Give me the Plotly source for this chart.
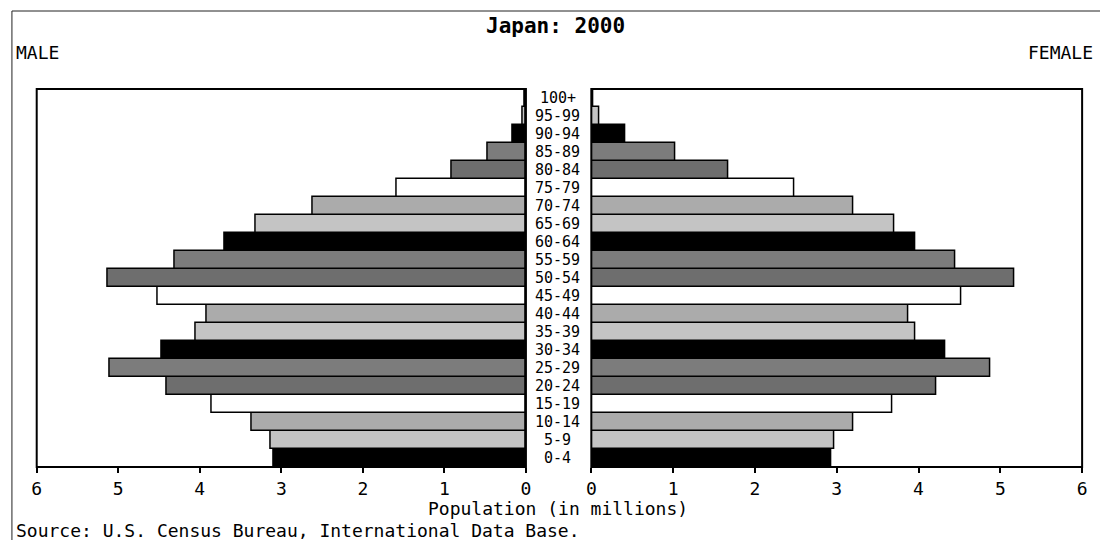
import plotly.graph_objects as go

age_groups = ["0-4", "5-9", "10-14", "15-19", "20-24", "25-29", "30-34", "35-39",
              "40-44", "45-49", "50-54", "55-59", "60-64", "65-69", "70-74", "75-79",
              "80-84", "85-89", "90-94", "95-99", "100+"]
male = [3.09, 3.13, 3.36, 3.85, 4.41, 5.11, 4.47, 4.05, 3.91, 4.52, 5.13,
        4.31, 3.70, 3.32, 2.62, 1.58, 0.91, 0.47, 0.16, 0.04, 0.01]
female = [2.94, 2.97, 3.20, 3.68, 4.22, 4.88, 4.33, 3.96, 3.87, 4.52, 5.17,
          4.45, 3.96, 3.71, 3.20, 2.48, 1.68, 1.03, 0.42, 0.10, 0.02]
x_ticks = [0, 1, 2, 3, 4, 5, 6]

title_text = "Japan: 2000"
xlabel = "Population (in millions)"
source_text = "Source: U.S. Census Bureau, International Data Base."

palette = ["#000000", "#c4c4c4", "#ababab", "#ffffff", "#6e6e6e", "#7c7c7c"]
bar_colors = [palette[i % len(palette)] for i in range(len(age_groups))]

W, H = 1100, 540
FONT = "DejaVu Sans Mono"

def px_x(v):
    return v / W

def px_y(v):
    return 1 - v / H

fig = go.Figure()
fig.add_trace(go.Bar(y=age_groups, x=male, orientation="h", xaxis="x", yaxis="y",
                     marker=dict(color=bar_colors, line=dict(color="black", width=1.5)),
                     showlegend=False, hoverinfo="x+y"))
fig.add_trace(go.Bar(y=age_groups, x=female, orientation="h", xaxis="x2", yaxis="y",
                     marker=dict(color=bar_colors, line=dict(color="black", width=1.5)),
                     showlegend=False, hoverinfo="x+y"))

y_dom = [px_y(467), px_y(89)]
axis_common = dict(tickmode="array", tickvals=x_ticks, ticktext=[str(t) for t in x_ticks],
                   ticks="outside", ticklen=5, tickwidth=1.5, tickcolor="black",
                   showgrid=False, zeroline=False, showline=False,
                   tickfont=dict(family=FONT, size=18, color="black"), fixedrange=True)

fig.update_layout(
    width=W, height=H,
    margin=dict(l=0, r=0, t=0, b=0),
    paper_bgcolor="white", plot_bgcolor="white",
    bargap=0,
    xaxis=dict(domain=[px_x(32), px_x(525.7)], range=[6, 0], anchor="y", **axis_common),
    xaxis2=dict(domain=[px_x(591.7), px_x(1087)], range=[0, 6], anchor="y", **axis_common),
    yaxis=dict(domain=y_dom, type="category", categoryorder="array", categoryarray=age_groups,
               showticklabels=False, ticks="", showgrid=False, zeroline=False,
               range=[-0.5, len(age_groups) - 0.5], fixedrange=True),
)

shapes = [
    dict(type="rect", xref="x domain", yref="y domain", x0=0, x1=1, y0=0, y1=1,
         line=dict(color="black", width=2), fillcolor="rgba(0,0,0,0)", layer="above"),
    dict(type="rect", xref="x2 domain", yref="y domain", x0=0, x1=1, y0=0, y1=1,
         line=dict(color="black", width=2), fillcolor="rgba(0,0,0,0)", layer="above"),
    dict(type="rect", xref="paper", yref="paper", x0=px_x(7), x1=px_x(1110),
         y0=px_y(560), y1=px_y(11), line=dict(color="#222222", width=1),
         fillcolor="rgba(0,0,0,0)"),
]

annotations = []
for ag in age_groups:
    annotations.append(dict(text=ag, x=px_x(558), xref="paper", y=ag, yref="y",
                            xanchor="center", yanchor="middle", showarrow=False,
                            font=dict(family=FONT, size=15, color="black")))
annotations += [
    dict(text="<b>" + title_text + "</b>", x=px_x(556), y=px_y(26), xref="paper", yref="paper",
         xanchor="center", yanchor="middle", showarrow=False,
         font=dict(family=FONT, size=21, color="black")),
    dict(text="MALE", x=px_x(9), y=px_y(52), xref="paper", yref="paper",
         xanchor="left", yanchor="middle", showarrow=False,
         font=dict(family=FONT, size=18, color="black")),
    dict(text="FEMALE", x=1.0, y=px_y(52), xref="paper", yref="paper",
         xanchor="right", yanchor="middle", showarrow=False,
         font=dict(family=FONT, size=18, color="black")),
    dict(text=xlabel, x=px_x(558), y=px_y(508), xref="paper", yref="paper",
         xanchor="center", yanchor="middle", showarrow=False,
         font=dict(family=FONT, size=18, color="black")),
    dict(text=source_text, x=px_x(9), y=px_y(530), xref="paper", yref="paper",
         xanchor="left", yanchor="middle", showarrow=False,
         font=dict(family=FONT, size=18, color="black")),
]
fig.update_layout(shapes=shapes, annotations=annotations)

fig.write_html("out.html", config={"displayModeBar": False},
               post_script="document.body.style.margin='0';document.body.style.overflow='hidden';")
